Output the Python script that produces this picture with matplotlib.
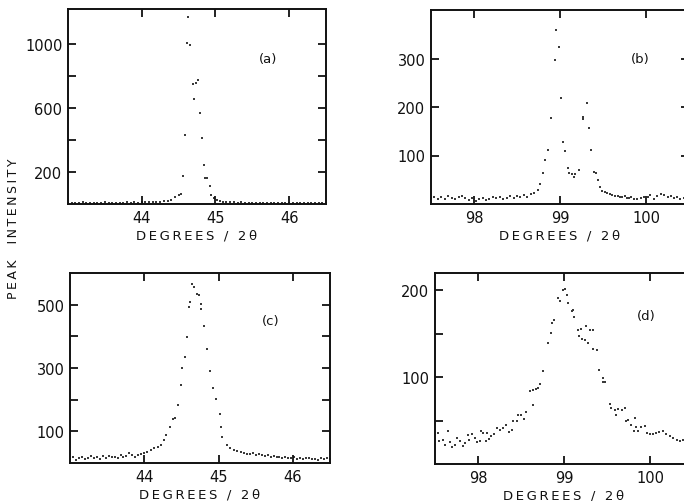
import matplotlib
matplotlib.use("Agg")
import matplotlib.pyplot as plt

plt.rcParams['font.family'] = ['DejaVu Sans']

# ---------------- data ----------------
# panel (a)
a_x = [43.00, 43.05, 43.10, 43.15, 43.20, 43.25, 43.30, 43.35, 43.40, 43.45, 43.50, 43.55,
       43.60, 43.65, 43.70, 43.75, 43.80, 43.85, 43.90, 43.95, 44.00, 44.05, 44.10, 44.15,
       44.20, 44.25, 44.30, 44.35, 44.40, 44.45, 44.50, 44.53, 44.56, 44.59, 44.61, 44.63,
       44.66, 44.69, 44.71, 44.74, 44.77, 44.79, 44.82, 44.84, 44.86, 44.89, 44.92, 44.94,
       44.98, 45.02, 45.06, 45.10, 45.15, 45.20, 45.25, 45.30, 45.35, 45.40, 45.45, 45.50,
       45.55, 45.60, 45.65, 45.70, 45.75, 45.80, 45.85, 45.90, 45.95, 46.00, 46.05, 46.10,
       46.15, 46.20, 46.25, 46.30, 46.35, 46.40, 46.45, 46.50]
a_y = [8, 6, 9, 7, 10, 8, 6, 9, 7, 8, 10, 7,
       9, 8, 6, 8, 10, 9, 11, 9, 12, 10, 11, 13,
       12, 14, 17, 20, 28, 46, 54, 65, 173, 431, 1010, 1167,
       996, 752, 656, 756, 777, 569, 415, 244, 165, 165, 113, 58,
       37, 25, 17, 14, 12, 10, 11, 9, 10, 8, 9, 7,
       8, 9, 7, 8, 6, 8, 7, 9, 6, 8, 7, 6,
       8, 7, 6, 8, 7, 6, 7, 8]

# panel (b)
b_x = [97.50, 97.54, 97.58, 97.62, 97.66, 97.70, 97.74, 97.78, 97.82, 97.86, 97.90, 97.94,
       97.98, 98.02, 98.06, 98.10, 98.14, 98.18, 98.22, 98.26, 98.30, 98.34, 98.38, 98.42,
       98.46, 98.50, 98.54, 98.58, 98.62, 98.66, 98.70, 98.74, 98.77, 98.80, 98.83, 98.86,
       98.90, 98.94, 98.957, 98.99, 99.01, 99.04, 99.06, 99.09, 99.10, 99.14, 99.16, 99.18,
       99.22, 99.27, 99.27, 99.31, 99.34, 99.36, 99.39, 99.42, 99.44, 99.46, 99.49, 99.52,
       99.55, 99.58, 99.61, 99.64, 99.67, 99.70, 99.72, 99.75, 99.78, 99.80, 99.82, 99.86,
       99.90, 99.94, 99.98, 100.02, 100.05, 100.09, 100.13, 100.17, 100.21, 100.25, 100.29,
       100.33, 100.36, 100.40, 100.44, 100.47, 100.50]
b_y = [12, 15, 10, 14, 11, 16, 13, 10, 14, 17, 12, 9,
       13, 7, 10, 12, 8, 11, 14, 12, 15, 11, 13, 16,
       12, 17, 14, 18, 15, 20, 22, 28, 42, 63, 90, 112,
       178, 297, 358, 323, 218, 127, 109, 75, 63, 61, 56, 61,
       70, 180, 175, 209, 156, 112, 66, 64, 49, 36, 26, 24,
       22, 20, 18, 17, 16, 14, 15, 16, 13, 12, 15, 10,
       11, 12, 15, 14, 18, 10, 16, 20, 18, 14, 16,
       12, 15, 10, 13, 11, 12]

# panel (c)
c_x = [43.00, 43.04, 43.08, 43.12, 43.16, 43.20, 43.24, 43.28, 43.32, 43.36, 43.40, 43.44,
       43.48, 43.52, 43.56, 43.60, 43.64, 43.68, 43.72, 43.76, 43.80, 43.84, 43.88, 43.92,
       43.96, 44.00, 44.04, 44.09, 44.13, 44.18, 44.22, 44.27, 44.29, 44.35, 44.39, 44.41,
       44.46, 44.50, 44.51, 44.55, 44.58, 44.60, 44.62, 44.649, 44.67, 44.71, 44.73, 44.76,
       44.77, 44.81, 44.85, 44.88, 44.93, 44.96, 45.02, 45.03, 45.05, 45.12, 45.16, 45.21,
       45.25, 45.30, 45.34, 45.38, 45.42, 45.46, 45.50, 45.54, 45.58, 45.62, 45.66, 45.70,
       45.74, 45.78, 45.82, 45.86, 45.90, 45.94, 45.98, 46.02, 46.06, 46.10, 46.14, 46.18,
       46.22, 46.26, 46.30, 46.34, 46.38, 46.42, 46.46, 46.50]
c_y = [14, 18, 11, 16, 20, 13, 17, 22, 15, 19, 14, 21,
       17, 23, 18, 20, 16, 24, 19, 22, 32, 26, 18, 24,
       28, 32, 35, 40, 48, 51, 56, 72, 88, 114, 138, 143,
       184, 247, 300, 336, 397, 492, 508, 565, 555, 534, 531, 502,
       487, 434, 361, 289, 238, 203, 154, 114, 82, 56, 46, 40,
       37, 35, 33, 30, 28, 31, 26, 27, 24, 22, 25, 20,
       21, 18, 19, 16, 20, 17, 15, 18, 14, 16, 13, 15,
       17, 12, 14, 11, 15, 12, 16, 13]

# panel (d)
d_x = [97.53, 97.55, 97.59, 97.62, 97.65, 97.67, 97.70, 97.73, 97.76, 97.79, 97.82, 97.85,
       97.88, 97.90, 97.93, 97.96, 97.99, 98.02, 98.04, 98.06, 98.09, 98.11, 98.13, 98.15,
       98.19, 98.22, 98.25, 98.29, 98.33, 98.36, 98.39, 98.41, 98.45, 98.47, 98.50, 98.53,
       98.56, 98.60, 98.64, 98.64, 98.68, 98.70, 98.72, 98.75, 98.81, 98.85, 98.86, 98.88,
       98.93, 98.95, 98.99, 99.01, 99.03, 99.05, 99.09, 99.10, 99.12, 99.16, 99.17, 99.20,
       99.21, 99.24, 99.25, 99.28, 99.30, 99.34, 99.34, 99.38, 99.41, 99.45, 99.45, 99.48,
       99.53, 99.55, 99.59, 99.60, 99.63, 99.67, 99.71, 99.72, 99.74, 99.78, 99.81, 99.82,
       99.84, 99.86, 99.90, 99.94, 99.96, 100.00, 100.03, 100.07, 100.11, 100.15, 100.19,
       100.23, 100.27, 100.31, 100.35, 100.38, 100.42, 100.46]
d_y = [36, 26, 28, 22, 38, 25, 20, 22, 30, 27, 21, 24,
       33, 28, 35, 30, 25, 26, 38, 36, 27, 36, 29, 32,
       34, 41, 39, 42, 45, 37, 39, 49, 49, 56, 57, 52,
       60, 84, 85, 68, 86, 88, 92, 107, 139, 151, 162, 166,
       191, 188, 200, 201, 195, 185, 176, 177, 169, 154, 147, 156,
       144, 143, 159, 139, 154, 154, 133, 131, 108, 99, 95, 95,
       69, 64, 62, 57, 63, 62, 64, 49, 51, 45, 38, 53,
       43, 38, 43, 44, 36, 34, 34, 36, 37, 38, 34,
       32, 30, 28, 26, 28, 30, 27]

panels = [
    dict(x=a_x, y=a_y, label="(a)", xlim=(43.0, 46.5), ylim=(0, 1220),
         xticks=[44, 45, 46], yticks=[200, 400, 600, 800, 1000],
         ylabels=["200", "", "600", "", "1000"], lab_pos=(0.775, 0.745),
         rect=[68, 10, 258, 195]),
    dict(x=b_x, y=b_y, label="(b)", xlim=(97.5, 100.5), ylim=(0, 400),
         xticks=[98, 99, 100], yticks=[100, 200, 300],
         ylabels=["100", "200", "300"], lab_pos=(0.81, 0.75),
         rect=[431, 11, 258, 194]),
    dict(x=c_x, y=c_y, label="(c)", xlim=(43.0, 46.5), ylim=(0, 600),
         xticks=[44, 45, 46], yticks=[100, 200, 300, 400, 500],
         ylabels=["100", "", "300", "", "500"], lab_pos=(0.77, 0.75),
         rect=[70, 274, 260, 190]),
    dict(x=d_x, y=d_y, label="(d)", xlim=(97.5, 100.5), ylim=(0, 220),
         xticks=[98, 99, 100], yticks=[50, 100, 150, 200],
         ylabels=["", "100", "", "200"], lab_pos=(0.82, 0.78),
         rect=[435, 274, 258, 191]),
]

W, H = 684, 502
fig = plt.figure(figsize=(W / 100, H / 100), dpi=100)
fig.patch.set_facecolor("white")

THIN = "\u2009"

def spaced(s):
    return THIN.join(list(s))

for p in panels:
    l, t, w, h = p["rect"]
    ax = fig.add_axes([l / W, 1 - (t + h) / H, w / W, h / H])
    ax.scatter(p["x"], p["y"], s=1.6, color="#3a3a3a", marker="s", linewidths=0)
    ax.set_xlim(*p["xlim"])
    ax.set_ylim(*p["ylim"])
    ax.set_xticks(p["xticks"])
    ax.set_xticklabels([str(v) for v in p["xticks"]])
    ax.set_yticks(p["yticks"])
    ax.set_yticklabels(p["ylabels"])
    ax.tick_params(direction="in", length=6, width=1.3, top=True, right=True,
                   labelsize=10.5, pad=4, colors="#111111")
    for s in ax.spines.values():
        s.set_linewidth(1.4)
        s.set_color("#111111")
    ax.set_xlabel(spaced("DEGREES / 2θ"), fontsize=9.5, labelpad=3, color="#111111")
    ax.text(p["lab_pos"][0], p["lab_pos"][1], p["label"], transform=ax.transAxes,
            fontsize=9.5, ha="center", va="center", color="#111111")

fig.text(14 / W, 1 - 229 / H, spaced("PEAK") + "    " + spaced("INTENSITY"),
         rotation=90, ha="center", va="center", fontsize=9, color="#111111")

fig.savefig("out.png", dpi=100, facecolor="white")
